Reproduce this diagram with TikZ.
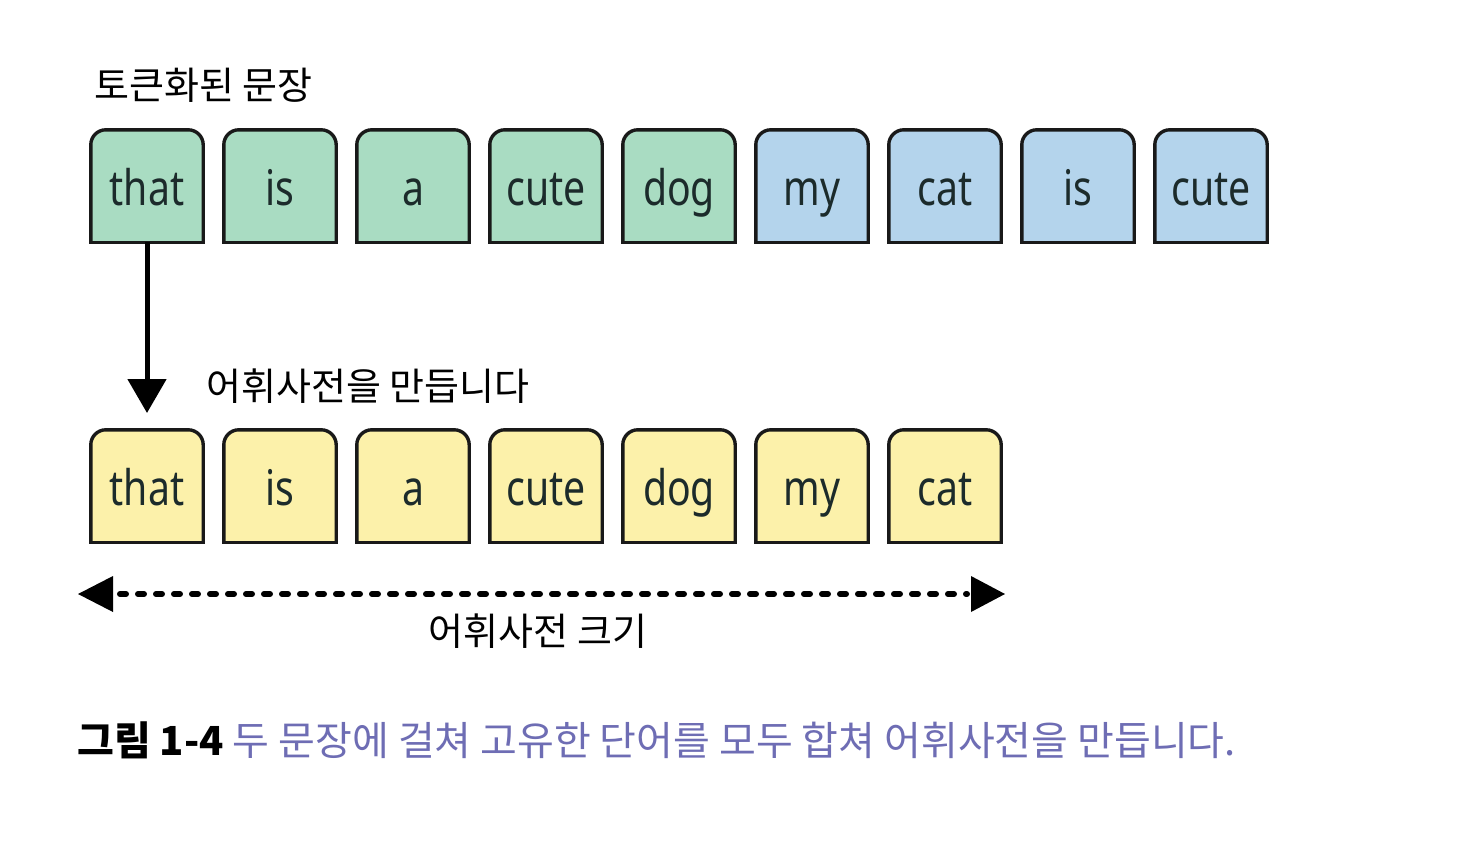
\documentclass[tikz,border=0pt]{standalone}
\usepackage{fontspec}
\setmainfont{Noto Sans}
\newfontfamily\kr{Noto Sans CJK KR}
\usetikzlibrary{arrows.meta,positioning}
\definecolor{tokgreen}{HTML}{A9DCC2}
\definecolor{tokblue}{HTML}{B4D4EC}
\definecolor{tokyellow}{HTML}{FCF1AA}
\definecolor{txtdark}{HTML}{1C2B2B}
\definecolor{capblue}{HTML}{6E6DB4}
\tikzset{
  tokslot/.style={minimum width=112pt, minimum height=112pt, inner sep=0pt},
  outline/.style={line width=3.4pt, draw=black!90},
  word/.style={text=txtdark, inner sep=0pt, anchor=base, font=\fontsize{49}{52}\selectfont},
  label/.style={inner sep=0pt, anchor=base west, font=\kr\fontsize{38}{40}\selectfont},
}
\begin{document}
\begin{tikzpicture}[x=1pt,y=1pt]
\useasboundingbox (0,0) rectangle (1460,-860);
\fill[white] (0,0) rectangle (1460,-860);
% slots
\foreach \i in {0,...,8}{ \node[tokslot] (t\i) at (147+133*\i,-186) {}; }
\foreach \i in {0,...,6}{ \node[tokslot] (b\i) at (147+133*\i,-486) {}; }
% fills
\foreach \i/\c in {0/tokgreen,1/tokgreen,2/tokgreen,3/tokgreen,4/tokgreen,5/tokblue,6/tokblue,7/tokblue,8/tokblue}{
  \fill[\c, rounded corners=15pt] (t\i.south west) rectangle (t\i.north east);
  \fill[\c] (t\i.south west) rectangle (t\i.east);
}
\foreach \i in {0,...,6}{
  \fill[tokyellow, rounded corners=15pt] (b\i.south west) rectangle (b\i.north east);
  \fill[tokyellow] (b\i.south west) rectangle (b\i.east);
}
% outlines with rounded top corners
\foreach \n in {t0,t1,t2,t3,t4,t5,t6,t7,t8,b0,b1,b2,b3,b4,b5,b6}{
  \draw[outline, rounded corners=15pt] (\n.south west) -- (\n.north west) -- (\n.north east) -- (\n.south east);
  \draw[outline] ([xshift=-1.7pt]\n.south west) -- ([xshift=1.7pt]\n.south east);
}
% words
\foreach \w [count=\i from 0] in {that,is,a,cute,dog,my,cat,is,cute}{
  \node[word] at ([yshift=-19pt]t\i.center) {\scalebox{0.8}[1]{\w}};
}
\foreach \w [count=\i from 0] in {that,is,a,cute,dog,my,cat}{
  \node[word] at ([yshift=-19pt]b\i.center) {\scalebox{0.8}[1]{\w}};
}
% labels
\node[label] (l1) at (94,-99) {토큰화된 문장};
\node[label] (l2) at (206,-400) {어휘사전을 만듭니다};
% vertical arrow
\coordinate (arrend) at (147,-413);
\draw[line width=5pt, -{Triangle[length=34pt,width=38pt]}] (t0.south) -- (arrend);
% dashed double arrow
\coordinate (dl) at (78,-594);
\coordinate (dr) at (1005,-594);
\draw[line width=6pt, line cap=round, dash pattern=on 6pt off 12pt, shorten <=42pt, shorten >=38pt] (dl) -- (dr);
\fill (dl) -- ++(35,18) -- ++(0,-36) -- cycle;
\fill (dr) -- ++(-34,18) -- ++(0,-36) -- cycle;
\node[inner sep=0pt, anchor=base, font=\kr\fontsize{38}{40}\selectfont] (l3) at (538,-645) {어휘사전 크기};
% caption
\node[inner sep=0pt, anchor=base west, font=\kr\fontsize{40}{42}\selectfont] (cap) at (77,-755)
  {{\bfseries 그림 1-4} \textcolor{capblue}{두 문장에 걸쳐 고유한 단어를 모두 합쳐 어휘사전을 만듭니다.}};
\end{tikzpicture}
\end{document}
